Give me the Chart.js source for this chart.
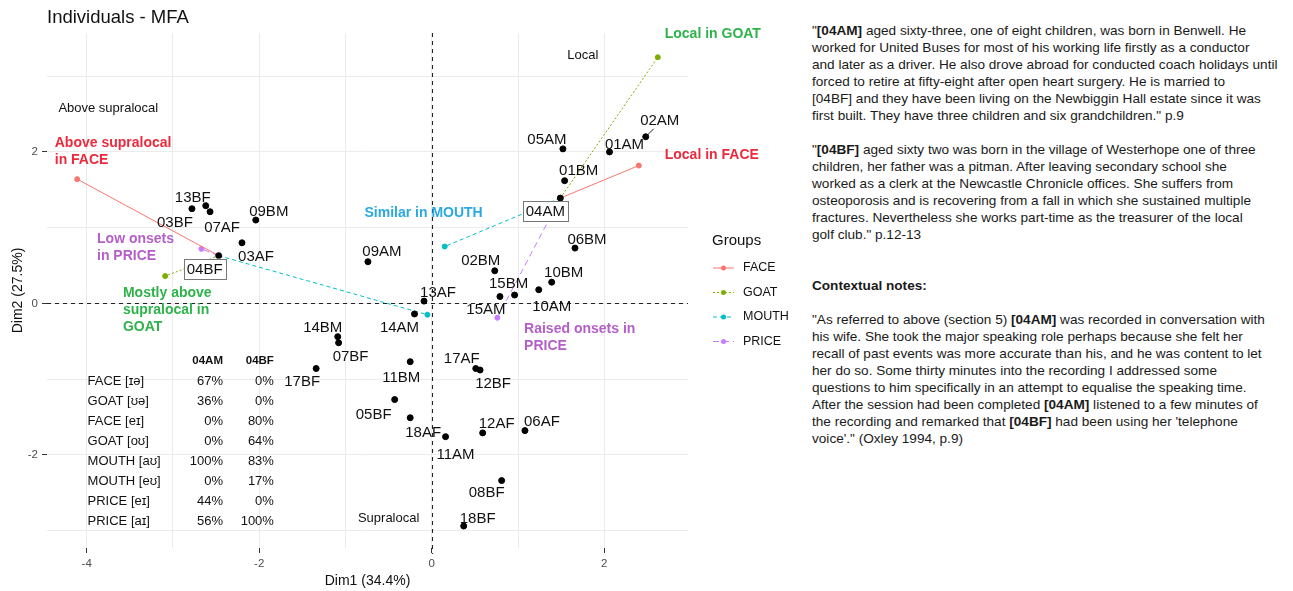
<!DOCTYPE html>
<html>
<head>
<meta charset="utf-8">
<title>Individuals - MFA</title>
<script src="https://cdn.jsdelivr.net/npm/chart.js@4.4.0/dist/chart.umd.min.js"></script>
<style>
  body { margin:0; background:#fff; width:1293px; height:591px; overflow:hidden; position:relative; font-family:"Liberation Sans", Arial, sans-serif; }
  #wrap { position:absolute; left:0; top:0; width:800px; height:591px; }
  #notes { position:absolute; left:812px; top:22px; font-size:13.6px; line-height:17px; color:#1a1a1a; white-space:nowrap; }
  #notes p { margin:0 0 17px 0; }
  #notes p.gap { margin-top:34px; }
</style>
</head>
<body>
<div id="wrap"><canvas id="mfa"></canvas></div>
<div id="notes">
  <p>"<b>[04AM]</b> aged sixty-three, one of eight children, was born in Benwell. He<br>
  worked for United Buses for most of his working life firstly as a conductor<br>
  and later as a driver. He also drove abroad for conducted coach holidays until<br>
  forced to retire at fifty-eight after open heart surgery. He is married to<br>
  [04BF] and they have been living on the Newbiggin Hall estate since it was<br>
  first built. They have three children and six grandchildren." p.9</p>
  <p>"<b>[04BF]</b> aged sixty two was born in the village of Westerhope one of three<br>
  children, her father was a pitman. After leaving secondary school she<br>
  worked as a clerk at the Newcastle Chronicle offices. She suffers from<br>
  osteoporosis and is recovering from a fall in which she sustained multiple<br>
  fractures. Nevertheless she works part-time as the treasurer of the local<br>
  golf club." p.12-13</p>
  <p class="gap"><b>Contextual notes:</b></p>
  <p>"As referred to above (section 5) <b>[04AM]</b> was recorded in conversation with<br>
  his wife. She took the major speaking role perhaps because she felt her<br>
  recall of past events was more accurate than his, and he was content to let<br>
  her do so. Some thirty minutes into the recording I addressed some<br>
  questions to him specifically in an attempt to equalise the speaking time.<br>
  After the session had been completed <b>[04AM]</b> listened to a few minutes of<br>
  the recording and remarked that <b>[04BF]</b> had been using her 'telephone<br>
  voice'." (Oxley 1994, p.9)</p>
</div>
<script>
// individuals on the first two dimensions
const names = ['01AM','01BM','02AM','02BM','03AF','03BF','04AM','04BF','05AM','05BF','06AF',
  '06BM','07AF','07BF','08BF','09AM','09BM','10AM','10BM','11AM','11BM','12AF','12BF',
  '13AF','13BF','14AM','14BM','15AM','15BM','17AF','17BF','18AF','18BF'];
const dim1 = [2.06, 1.54, 2.48, 0.73, -2.20, -2.78, 1.49, -2.47, 1.52, -0.43, 1.08,
  1.66, -2.57, -1.08, 0.81, -0.74, -2.04, 1.24, 1.39, 0.16, -0.25, 0.59, 0.56,
  -0.09, -2.62, -0.20, -1.09, 0.79, 0.96, 0.51, -1.34, -0.25, 0.37];
const dim2 = [2.00, 1.62, 2.20, 0.43, 0.80, 1.25, 1.39, 0.63, 2.04, -1.27, -1.68,
  0.73, 1.21, -0.52, -2.34, 0.55, 1.10, 0.18, 0.28, -1.76, -0.77, -1.71, -0.88,
  0.03, 1.29, -0.14, -0.44, 0.09, 0.11, -0.86, -0.86, -1.51, -2.94];

// partial individuals for 04AM and 04BF, one per group
const groups = ['FACE', 'GOAT', 'MOUTH', 'PRICE'];
const am04x = [2.40, 2.62, 0.15, 0.76];
const am04y = [1.82, 3.25, 0.75, -0.19];
const bf04x = [-4.11, -3.09, -0.05, -2.67];
const bf04y = [1.64, 0.36, -0.15, 0.72];

// variant table
const tableRows = ['FACE [ɪə]', 'GOAT [ʊə]', 'FACE [eɪ]', 'GOAT [oʊ]', 'MOUTH [aʊ]', 'MOUTH [eʊ]', 'PRICE [eɪ]', 'PRICE [aɪ]'];
const pct04AM = [67, 36, 0, 0, 100, 0, 44, 56];
const pct04BF = [0, 0, 80, 64, 83, 17, 0, 100];

const xTickLabels = [-4, -2, 0, 2];
const yTickLabels = [-2, 0, 2];

// styling
const groupColors = ['#F8766D', '#7CAE00', '#00BFC4', '#C77CFF'];
const groupDash = [[], [2, 2], [4, 3], [6, 4]];
const FONT = '"Liberation Sans", Arial, sans-serif';

// label nudges in px (dx, dy) from each point
const nudge = {
  '01AM':[15,-8], '01BM':[14,-11], '02AM':[14,-17], '02BM':[-14,-11], '03AF':[14,13],
  '03BF':[-17,13], '04AM':[-15,13], '04BF':[-14,13], '05AM':[-16,-10], '05BF':[-21,14],
  '06AF':[17,-10], '06BM':[12,-9], '07AF':[12,15], '07BF':[12,13], '08BF':[-15,11],
  '09AM':[14,-11], '09BM':[13,-9], '10AM':[13,16], '10BM':[12,-10], '11AM':[10,17],
  '11BM':[-9,15], '12AF':[14,-10], '12BF':[13,13], '13AF':[14,-9], '13BF':[-13,-9],
  '14AM':[-15,13], '14BM':[-15,-10], '15AM':[-14,12], '15BM':[-6,-12], '17AF':[-14,-11],
  '17BF':[-14,12], '18AF':[13,14], '18BF':[14,-8]
};
const boxed = ['04AM', '04BF'];

const notes = [
  {text:['Local in GOAT'], x:2.70, y:3.56, color:'#2EB34B', bold:true, align:'left'},
  {text:['Local'], x:1.75, y:3.27, color:'#111', bold:false, align:'center'},
  {text:['Above supralocal'], x:-3.75, y:2.58, color:'#111', bold:false, align:'center'},
  {text:['Above supralocal', 'in FACE'], x:-4.37, y:2.12, color:'#EC2A3E', bold:true, align:'left'},
  {text:['Local in FACE'], x:2.70, y:1.96, color:'#EC2A3E', bold:true, align:'left'},
  {text:['Similar in MOUTH'], x:-0.78, y:1.19, color:'#29A9E0', bold:true, align:'left'},
  {text:['Low onsets', 'in PRICE'], x:-3.88, y:0.85, color:'#B45FC8', bold:true, align:'left'},
  {text:['Mostly above', 'supralocal in', 'GOAT'], x:-3.58, y:0.14, color:'#2EB34B', bold:true, align:'left'},
  {text:['Raised onsets in', 'PRICE'], x:1.07, y:-0.34, color:'#B45FC8', bold:true, align:'left'},
  {text:['Supralocal'], x:-0.50, y:-2.84, color:'#111', bold:false, align:'center'}
];

const datasets = [{
  label: 'Individuals',
  data: names.map((n, i) => ({x: dim1[i], y: dim2[i]})),
  backgroundColor: '#000', borderColor: '#000',
  pointRadius: 3, pointHoverRadius: 3
}];
groups.forEach((g, k) => {
  [[am04x, am04y, 6], [bf04x, bf04y, 7]].forEach(([px, py, idx]) => {
    datasets.push({
      label: g,
      data: [{x: dim1[idx], y: dim2[idx]}, {x: px[k], y: py[k]}],
      showLine: true,
      borderColor: groupColors[k], backgroundColor: groupColors[k],
      borderWidth: 1, borderDash: groupDash[k],
      pointRadius: [0, 2.5], pointHoverRadius: [0, 2.5]
    });
  });
});

const overlay = {
  id: 'overlay',
  beforeDatasetsDraw(chart) {
    const {ctx, chartArea: a, scales: {x, y}} = chart;
    const x0 = Math.round(x.getPixelForValue(0)) + 0.5;
    const y0 = Math.round(y.getPixelForValue(0)) + 0.5;
    ctx.save();
    ctx.strokeStyle = '#222';
    ctx.lineWidth = 1.1;
    ctx.setLineDash([4, 4]);
    ctx.beginPath();
    ctx.moveTo(x0, a.top); ctx.lineTo(x0, a.bottom + 6);
    ctx.moveTo(a.left, y0); ctx.lineTo(a.right, y0);
    ctx.stroke();
    ctx.restore();
  },
  afterDatasetsDraw(chart) {
    const {ctx, scales: {x, y}} = chart;
    ctx.save();
    ctx.textBaseline = 'middle';

    // point labels
    ctx.font = '15px ' + FONT;
    names.forEach((n, i) => {
      const px = x.getPixelForValue(dim1[i]), py = y.getPixelForValue(dim2[i]);
      const [dx, dy] = nudge[n];
      const lx = px + dx, ly = py + dy;
      if (n === '02AM') {
        ctx.strokeStyle = '#222'; ctx.lineWidth = 1;
        ctx.beginPath(); ctx.moveTo(px, py); ctx.lineTo(px + 8, py - 8); ctx.stroke();
      }
      const w = ctx.measureText(n).width;
      if (boxed.includes(n)) {
        ctx.fillStyle = '#fff';
        ctx.fillRect(lx - w / 2 - 3, ly - 10, w + 6, 20);
        ctx.strokeStyle = '#777'; ctx.lineWidth = 1;
        ctx.strokeRect(Math.round(lx - w / 2 - 3) + 0.5, Math.round(ly - 10) + 0.5, Math.round(w + 6), 20);
      }
      ctx.fillStyle = '#111';
      ctx.textAlign = 'center';
      ctx.fillText(n, lx, ly + 1);
    });

    // text notes
    notes.forEach(nt => {
      ctx.font = (nt.bold ? 'bold 14px ' : '13px ') + FONT;
      ctx.fillStyle = nt.color;
      ctx.textAlign = nt.align;
      const bx = x.getPixelForValue(nt.x), by = y.getPixelForValue(nt.y);
      nt.text.forEach((t, j) => ctx.fillText(t, bx, by + j * 17));
    });

    // variant table
    const tx = x.getPixelForValue(-3.99);
    const c1 = x.getPixelForValue(-2.42), c2 = x.getPixelForValue(-1.83);
    const ty = y.getPixelForValue(-0.76);
    ctx.fillStyle = '#111';
    ctx.font = 'bold 11.5px ' + FONT;
    ctx.textAlign = 'right';
    ctx.fillText('04AM', c1, ty);
    ctx.fillText('04BF', c2, ty);
    ctx.font = '13px ' + FONT;
    tableRows.forEach((r, i) => {
      const ry = ty + 20 * (i + 1);
      ctx.textAlign = 'left';
      ctx.fillText(r, tx, ry);
      ctx.textAlign = 'right';
      ctx.fillText(pct04AM[i] + '%', c1, ry);
      ctx.fillText(pct04BF[i] + '%', c2, ry);
    });
    ctx.restore();
  },
  afterDraw(chart) {
    const {ctx} = chart;
    ctx.save();
    ctx.textBaseline = 'middle';
    ctx.textAlign = 'left';
    ctx.fillStyle = '#111';
    ctx.font = '18.5px ' + FONT;
    ctx.fillText('Individuals - MFA', 47, 18);

    // legend
    ctx.font = '15px ' + FONT;
    ctx.fillText('Groups', 712, 241);
    ctx.font = '12.5px ' + FONT;
    groups.forEach((g, k) => {
      const ly = 268 + 24.5 * k;
      ctx.strokeStyle = groupColors[k];
      ctx.lineWidth = 1;
      ctx.setLineDash(groupDash[k]);
      ctx.beginPath(); ctx.moveTo(713, ly); ctx.lineTo(734, ly); ctx.stroke();
      ctx.setLineDash([]);
      ctx.fillStyle = groupColors[k];
      ctx.beginPath(); ctx.arc(723.5, ly, 2.5, 0, Math.PI * 2); ctx.fill();
      ctx.fillStyle = '#111';
      ctx.fillText(g, 743, ly);
    });
    ctx.restore();
  }
};

new Chart(document.getElementById('mfa'), {
  type: 'scatter',
  data: {datasets},
  options: {
    responsive: true,
    maintainAspectRatio: false,
    animation: false,
    events: [],
    layout: {padding: {left: 0, top: 33, right: 112, bottom: 0}},
    plugins: {legend: {display: false}, tooltip: {enabled: false}},
    scales: {
      x: {
        min: -4.46, max: 2.97,
        afterFit(s) { s.height = 43; },
        border: {display: false},
        grid: {
          color: '#ebebeb', lineWidth: 1, tickLength: 5,
          tickColor: c => xTickLabels.includes(c.tick.value) ? '#333' : 'rgba(0,0,0,0)'
        },
        ticks: {
          stepSize: 1, includeBounds: false, autoSkip: false, padding: 4,
          color: '#4d4d4d', font: {family: FONT, size: 11.5},
          callback: v => xTickLabels.includes(v) ? String(v) : ''
        },
        title: {display: true, text: 'Dim1 (34.4%)', color: '#111',
          font: {family: FONT, size: 14}, padding: {top: 0, bottom: 1}}
      },
      y: {
        min: -3.23, max: 3.57,
        afterFit(s) { s.width = 47; },
        border: {display: false},
        grid: {
          color: '#ebebeb', lineWidth: 1, tickLength: 5,
          tickColor: c => yTickLabels.includes(c.tick.value) ? '#333' : 'rgba(0,0,0,0)'
        },
        ticks: {
          stepSize: 1, includeBounds: false, autoSkip: false, padding: 4,
          color: '#4d4d4d', font: {family: FONT, size: 11.5},
          callback: v => yTickLabels.includes(v) ? String(v) : ''
        },
        title: {display: true, text: 'Dim2 (27.5%)', color: '#111',
          font: {family: FONT, size: 14}, padding: {top: 10, bottom: 0}}
      }
    }
  },
  plugins: [overlay]
});
</script>
</body>
</html>
